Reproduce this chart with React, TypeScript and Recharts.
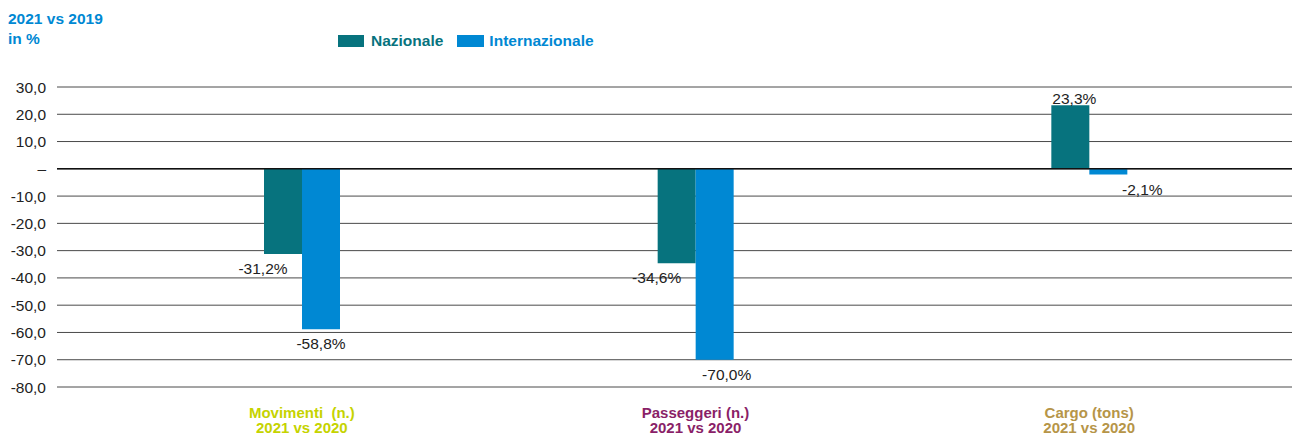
import { Bar, BarChart, CartesianGrid, LabelList, ReferenceLine, XAxis, YAxis } from 'recharts';

const categories = ['Movimenti  (n.)', 'Passeggeri (n.)', 'Cargo (tons)'];
const categorySub = ['2021 vs 2020', '2021 vs 2020', '2021 vs 2020'];
const categoryColors = ['#c5d300', '#8a1f68', '#b69548'];
const nazionale = [-31.2, -34.6, 23.3];
const internazionale = [-58.8, -70.0, -2.1];
const yTicks = [30, 20, 10, 0, -10, -20, -30, -40, -50, -60, -70, -80];

const TEAL = '#07737e';
const BLUE = '#0088d3';
const FONT = '"Liberation Sans", Arial, sans-serif';

const data = categories.map((name, i) => ({
    name,
    naz: nazionale[i],
    int: internazionale[i],
}));

const fmt = (v: number) => (v === 0 ? '–' : v.toFixed(1).replace('.', ','));
const pct = (v: number) => v.toFixed(1).replace('.', ',') + '%';

const CategoryTick = (props: any) => {
    const { x, y, payload, index } = props;
    return (
        <g transform={`translate(${x},${y})`}>
            <text textAnchor="middle" fontFamily={FONT} fontWeight="bold" fontSize={15} fill={categoryColors[index]} style={{ whiteSpace: 'pre' }}>
                <tspan x={0} y={23}>{payload.value}</tspan>
                <tspan x={0} y={38}>{categorySub[index]}</tspan>
            </text>
        </g>
    );
};

const makeLabel = (series: 'naz' | 'int') => (props: any) => {
    const { x, y, width, height, value } = props;
    const top = Math.min(y, y + height);
    const bottom = Math.max(y, y + height);
    const cx = x + width / 2;
    let dx = 0;
    if (series === 'naz') dx = value < 0 ? -20 : 4;
    else dx = value > -10 ? 34 : value < -65 ? 12 : 0;
    const ty = value >= 0 ? top - 1 : bottom + 20;
    return (
        <text x={cx + dx} y={ty} textAnchor="middle" fontFamily={FONT} fontSize={15.5} fill="#222">
            {pct(value)}
        </text>
    );
};

const App = () => (
    <div style={{ position: 'absolute', left: 0, top: 0, width: 1292, height: 436, background: '#fff' }}>
        <div style={{ position: 'absolute', left: 8, top: 9, color: BLUE, fontFamily: FONT, fontWeight: 'bold', fontSize: 15.5, lineHeight: '20px', zIndex: 2 }}>
            <div>2021 vs 2019</div>
            <div>in %</div>
        </div>
        <div style={{ position: 'absolute', left: 338, top: 31, zIndex: 2, display: 'flex', alignItems: 'center', fontFamily: FONT, fontWeight: 'bold', fontSize: 15.5, lineHeight: '20px' }}>
            <span style={{ display: 'inline-block', width: 26, height: 12, background: TEAL, marginRight: 7 }} />
            <span style={{ color: TEAL, marginRight: 14 }}>Nazionale</span>
            <span style={{ display: 'inline-block', width: 27, height: 12, background: BLUE, marginRight: 5 }} />
            <span style={{ color: BLUE }}>Internazionale</span>
        </div>
        <BarChart
            width={1292}
            height={436}
            data={data}
            margin={{ top: 87, right: 0, left: 0, bottom: 0 }}
            barSize={38}
            barGap={0}
        >
            <CartesianGrid horizontal vertical={false} stroke="#4a4a4a" strokeWidth={1} />
            <XAxis
                dataKey="name"
                axisLine={false}
                tickLine={false}
                height={49}
                padding={{ left: 48, right: 6 }}
                interval={0}
                tick={<CategoryTick />}
            />
            <YAxis
                width={57}
                domain={[-80, 30]}
                ticks={yTicks}
                interval={0}
                axisLine={false}
                tickLine={false}
                tickSize={0}
                tickMargin={11}
                tickFormatter={fmt}
                tick={{ fontFamily: FONT, fontSize: 15.5, fill: '#222' }}
            />
            <ReferenceLine y={0} stroke="#111" strokeWidth={1.5} />
            <Bar dataKey="naz" name="Nazionale" fill={TEAL} isAnimationActive={false}>
                <LabelList dataKey="naz" content={makeLabel('naz')} />
            </Bar>
            <Bar dataKey="int" name="Internazionale" fill={BLUE} isAnimationActive={false}>
                <LabelList dataKey="int" content={makeLabel('int')} />
            </Bar>
        </BarChart>
    </div>
);

export default App;
